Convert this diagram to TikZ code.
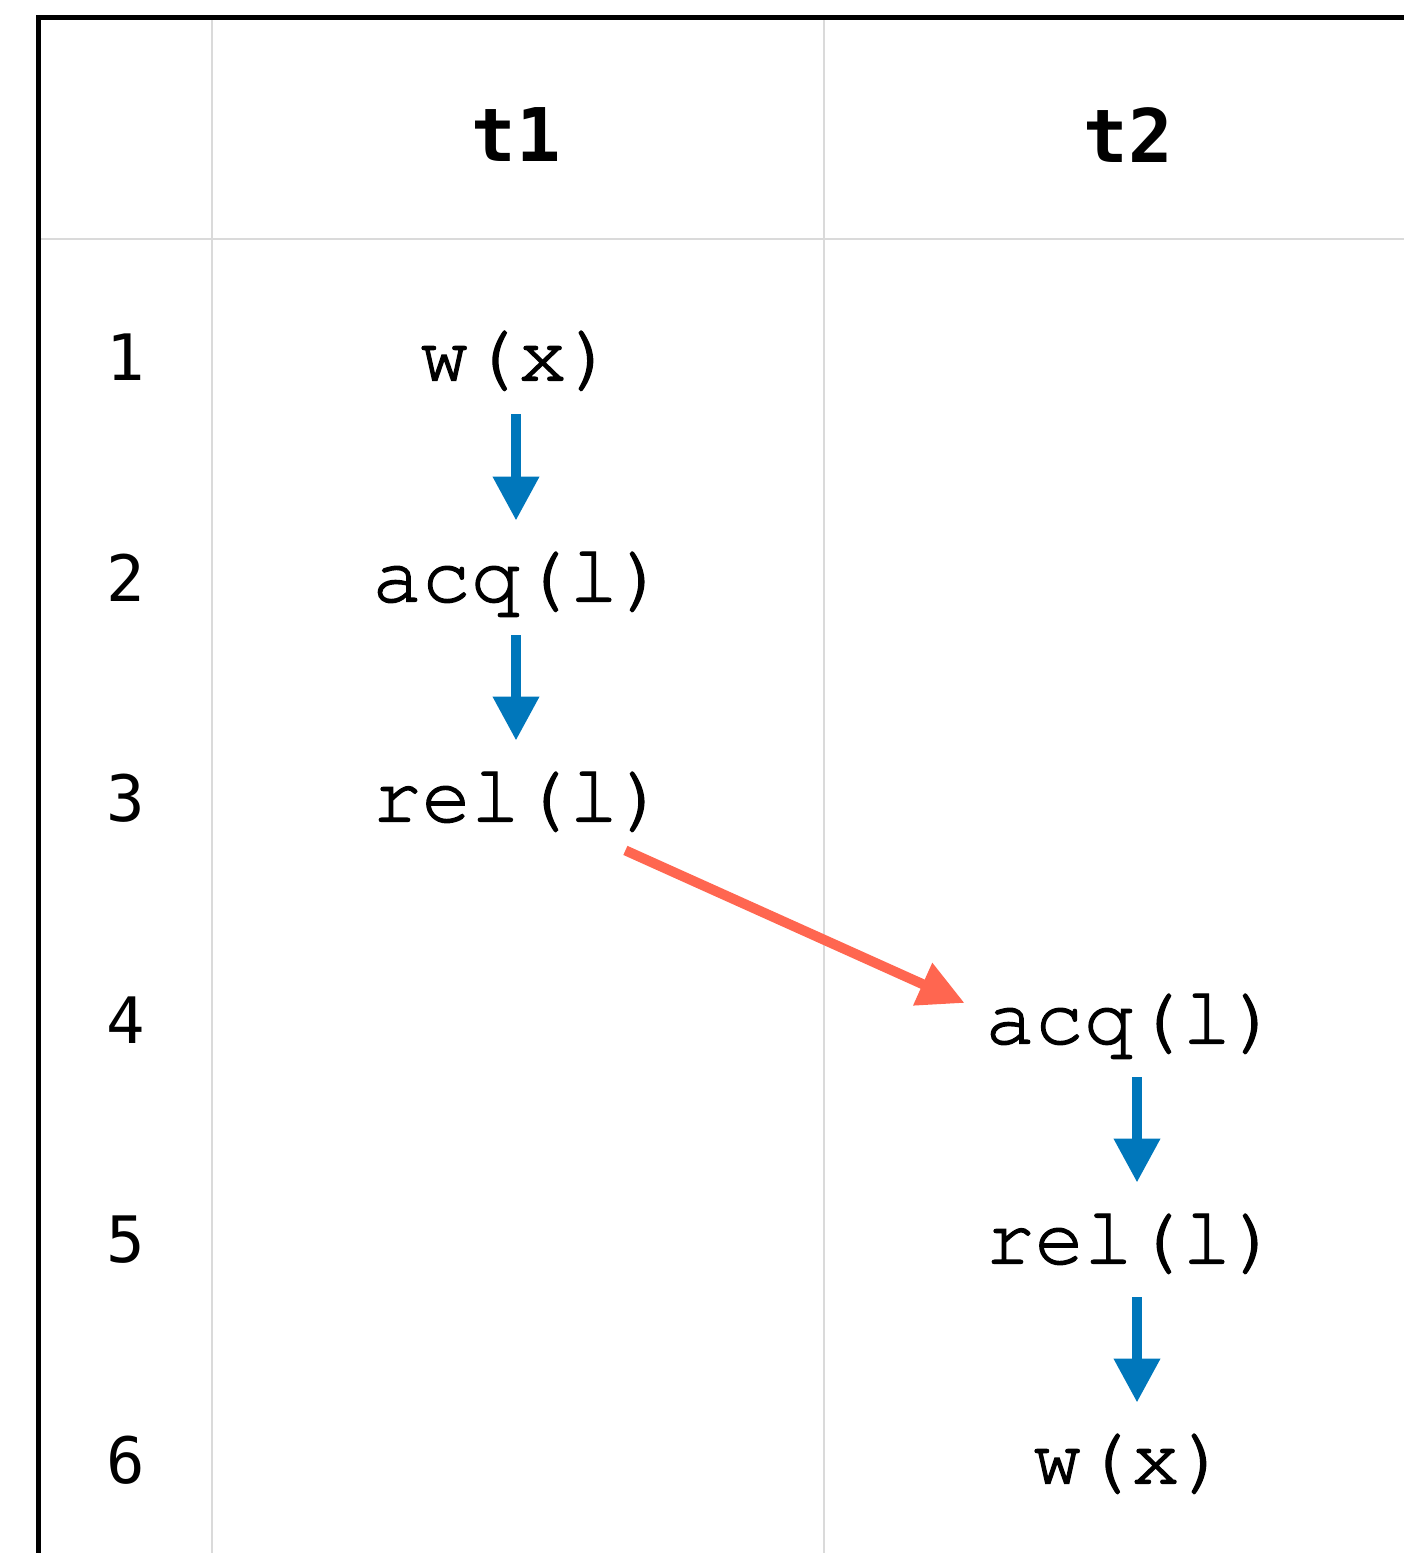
\documentclass[tikz,border=0pt]{standalone}
\usepackage{fontspec}
\setmainfont[FakeBold=1.6]{TeX Gyre Cursor}
\newfontfamily\rowfont{DejaVu Sans Mono}
\usetikzlibrary{positioning, arrows.meta}
\definecolor{poblue}{HTML}{0077BB}
\definecolor{swred}{HTML}{FF6650}
\definecolor{gridgray}{HTML}{DADADA}
\tikzset{
  op/.style={inner sep=0pt, minimum height=57pt, text height=31pt, text depth=7.5pt, font=\fontsize{41}{43}\selectfont},
  head/.style={font=\rowfont\bfseries\fontsize{37}{39}\selectfont},
  rownum/.style={font=\rowfont\fontsize{32}{34}\selectfont},
  po/.style={-{Triangle[length=22pt,width=22pt]}, line width=5pt, draw=poblue, fill=poblue},
  sw/.style={-{Triangle[length=23pt,width=22pt]}, line width=5pt, draw=swred, fill=swred},
}
\begin{document}
\begin{tikzpicture}[x=0.5pt, y=-0.5pt]
  \useasboundingbox (0,0) rectangle (1404,1553);
  \clip (0,0) rectangle (1404,1553);
  % grid
  \draw[gridgray, line width=1pt] (212,20) -- (212,1553);
  \draw[gridgray, line width=1pt] (824,20) -- (824,1553);
  \draw[gridgray, line width=1pt] (40,239) -- (1404,239);
  \draw[line width=2.5pt] (38.5,1553) -- (38.5,17.5) -- (1404,17.5);
  % header and row labels
  \node[head] (h1) at (516,135) {t1};
  \node[head] (h2) at (1128,135) {t2};
  \foreach \i/\y in {1/357,2/578,3/798,4/1020,5/1240,6/1460}
    \node[rownum] (r\i) at (126,\y) {\i};
  % thread t1
  \node[op] (w1) at (518,357) {w(x)};
  \node[op] (acq1) at (520,578) {acq(l)};
  \node[op] (rel1) at (520,798) {rel(l)};
  % thread t2
  \node[op] (acq2) at (1133,1020) {acq(l)};
  \node[op] (rel2) at (1133,1240) {rel(l)};
  \node[op] (w2) at (1131,1460) {w(x)};
  \draw[po] ([xshift=-1pt]w1.south) -- ([xshift=-2pt]acq1.north);
  \draw[po] ([xshift=-2pt]acq1.south) -- ([xshift=-2pt]rel1.north);
  \draw[po] ([xshift=2pt]acq2.south) -- ([xshift=2pt]rel2.north);
  \draw[po] ([xshift=2pt]rel2.south) -- ([xshift=3pt]w2.north);
  \draw[sw] ([xshift=-21.3pt,yshift=2.5pt]rel1.south east) -- ([xshift=-10.2pt,yshift=8.5pt]acq2.west);
\end{tikzpicture}
\end{document}
